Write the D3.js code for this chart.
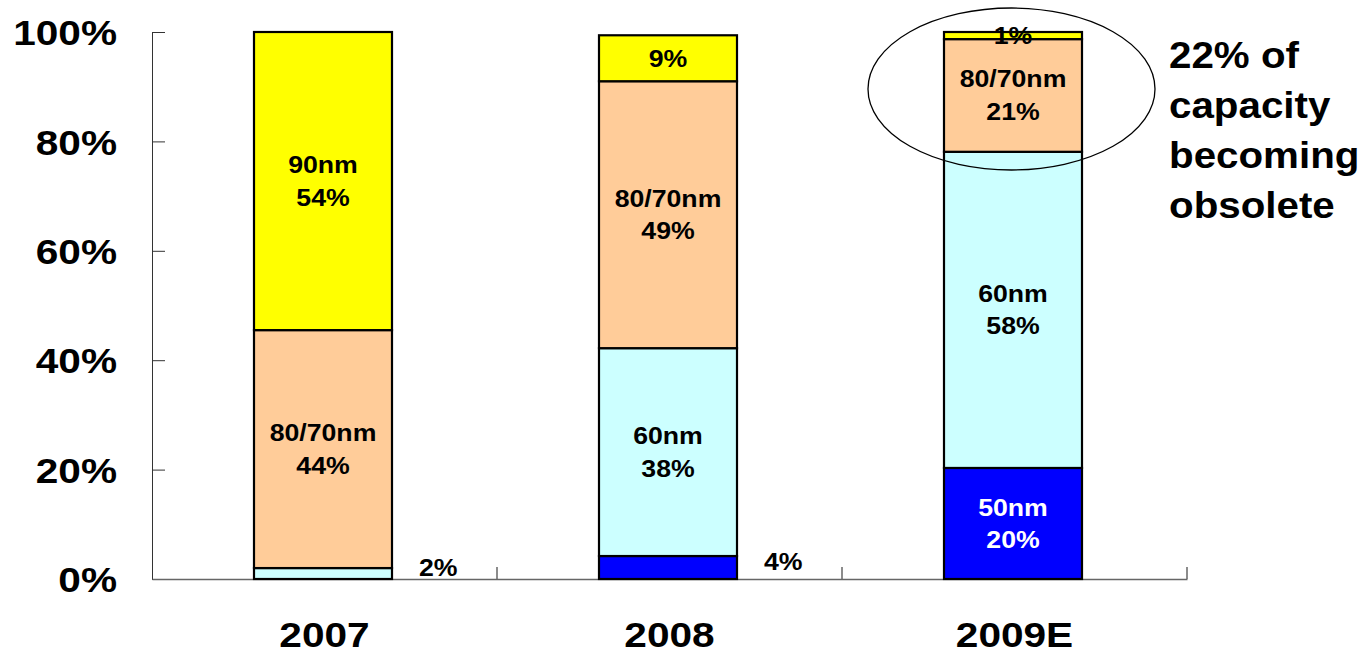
<!DOCTYPE html>
<html><head><meta charset="utf-8">
<script src="https://cdn.jsdelivr.net/npm/d3@7"></script>
<style>
html,body{margin:0;padding:0;background:#fff;}
svg text{font-family:"Liberation Sans",Arial,sans-serif;font-weight:bold;fill:#000;}
</style></head>
<body><svg id="c" width="1372" height="653"></svg>
<script>
const categories = ["2007", "2008", "2009E"];
const seriesNames = ["50nm", "60nm", "80/70nm", "90nm"];
const seriesColors = ["#0000FF", "#CCFFFF", "#FFCC99", "#FFFF00"];
const v50 = [0, 4.2, 20.3];
const v60 = [2.0, 38.0, 57.8];
const v8070 = [43.5, 48.8, 20.6];
const v90 = [54.5, 8.4, 1.3];
const lab50 = ["", "", "50nm\n20%"];
const lab60 = ["", "60nm\n38%", "60nm\n58%"];
const lab8070 = ["80/70nm\n44%", "80/70nm\n49%", "80/70nm\n21%"];
const lab90 = ["90nm\n54%", "9%", "1%"];
const outsideLabels = ["2%", "4%", ""];
const yTicks = [0, 20, 40, 60, 80, 100];
const note = ["22% of", "capacity", "becoming", "obsolete"];

const SX = 1.16;
const svg = d3.select("#c");
const x = d3.scaleBand().domain(categories).range([152, 1187]).padding(0);
const y = d3.scaleLinear().domain([0, 100]).range([579, 32]);
const bw = x.bandwidth() * 0.4;

const rows = categories.map((c, i) => ({cat: c, "50nm": v50[i], "60nm": v60[i], "80/70nm": v8070[i], "90nm": v90[i]}));
const labels = [lab50, lab60, lab8070, lab90];
const stacked = d3.stack().keys(seriesNames)(rows);

// y axis
const ya = svg.append("g").attr("transform", "translate(152,0)")
  .call(d3.axisLeft(y).tickValues(yTicks).tickSize(-13).tickSizeOuter(0).tickPadding(0).tickFormat(d => d + "%"));
ya.select(".domain").attr("stroke", "#333");
ya.selectAll(".tick line").attr("stroke", "#333");
ya.selectAll(".tick text").attr("font-size", 35).attr("x", -35 / SX).attr("dy", "0.36em")
  .attr("transform", `scale(${SX},1)`).attr("fill", "#000");

// x axis
const xa = svg.append("g").attr("transform", "translate(0,579)")
  .call(d3.axisBottom(x).tickSize(0).tickSizeOuter(0).tickPadding(0));
xa.select(".domain").attr("stroke", "#666").attr("stroke-width", 1.5);
xa.selectAll(".tick text").remove();
xa.selectAll(".tick").append("g").attr("transform", "translate(0,68)")
  .append("text").attr("transform", `scale(${SX},1)`).attr("text-anchor", "middle")
  .attr("font-size", 35).text(d => d);
svg.append("g").selectAll("line").data(categories).join("line")
  .attr("x1", d => x(d) + x.bandwidth()).attr("x2", d => x(d) + x.bandwidth())
  .attr("y1", 579).attr("y2", 567).attr("stroke", "#666").attr("stroke-width", 1.5);

// bars
const gs = svg.append("g").selectAll("g").data(stacked).join("g").attr("fill", (d, i) => seriesColors[i]);
gs.selectAll("rect").data(d => d.filter(p => p[1] - p[0] > 0)).join("rect")
  .attr("x", p => x(p.data.cat) + (x.bandwidth() - bw) / 2 - 1.5)
  .attr("width", bw)
  .attr("y", p => y(p[1]))
  .attr("height", p => y(p[0]) - y(p[1]))
  .attr("stroke", "#000").attr("stroke-width", 2.2);

// segment labels
stacked.forEach((s, si) => {
  s.forEach((p, ci) => {
    const t = labels[si][ci];
    if (!t) return;
    const lines = t.split("\n");
    const cx = x(p.data.cat) + x.bandwidth() / 2 - 1.5;
    const cy = (y(p[0]) + y(p[1])) / 2;
    const lh = 32.5;
    const g = svg.append("g").attr("transform", `translate(${cx},${cy}) scale(${SX},1)`);
    lines.forEach((ln, li) => {
      g.append("text").attr("text-anchor", "middle").attr("font-size", 23)
        .attr("y", (li - (lines.length - 1) / 2) * lh).attr("dy", "0.36em")
        .style("fill", si === 0 ? "#fff" : "#000").text(ln);
    });
  });
});

// outside labels (small first segment)
categories.forEach((c, i) => {
  if (!outsideLabels[i]) return;
  const barRight = x(c) + (x.bandwidth() + bw) / 2 - 1.5;
  const top = i === 0 ? y(v60[0]) : y(v50[i]);
  svg.append("g").attr("transform", `translate(${barRight + 27},${(579 + top) / 2 - 6}) scale(${SX},1)`)
    .append("text").attr("font-size", 23).attr("dy", "0.36em").text(outsideLabels[i]);
});

// ellipse highlight
const c3 = x("2009E") + x.bandwidth() / 2 - 3;
svg.append("ellipse").attr("cx", c3).attr("cy", 89).attr("rx", 143.5).attr("ry", 81)
  .attr("fill", "none").attr("stroke", "#000").attr("stroke-width", 1.3);

// annotation
const ng = svg.append("g").attr("transform", "translate(1169,68) scale(1.09,1)");
note.forEach((t, i) => {
  ng.append("text").attr("font-size", 37).attr("y", i * 50).text(t);
});
</script></body></html>
